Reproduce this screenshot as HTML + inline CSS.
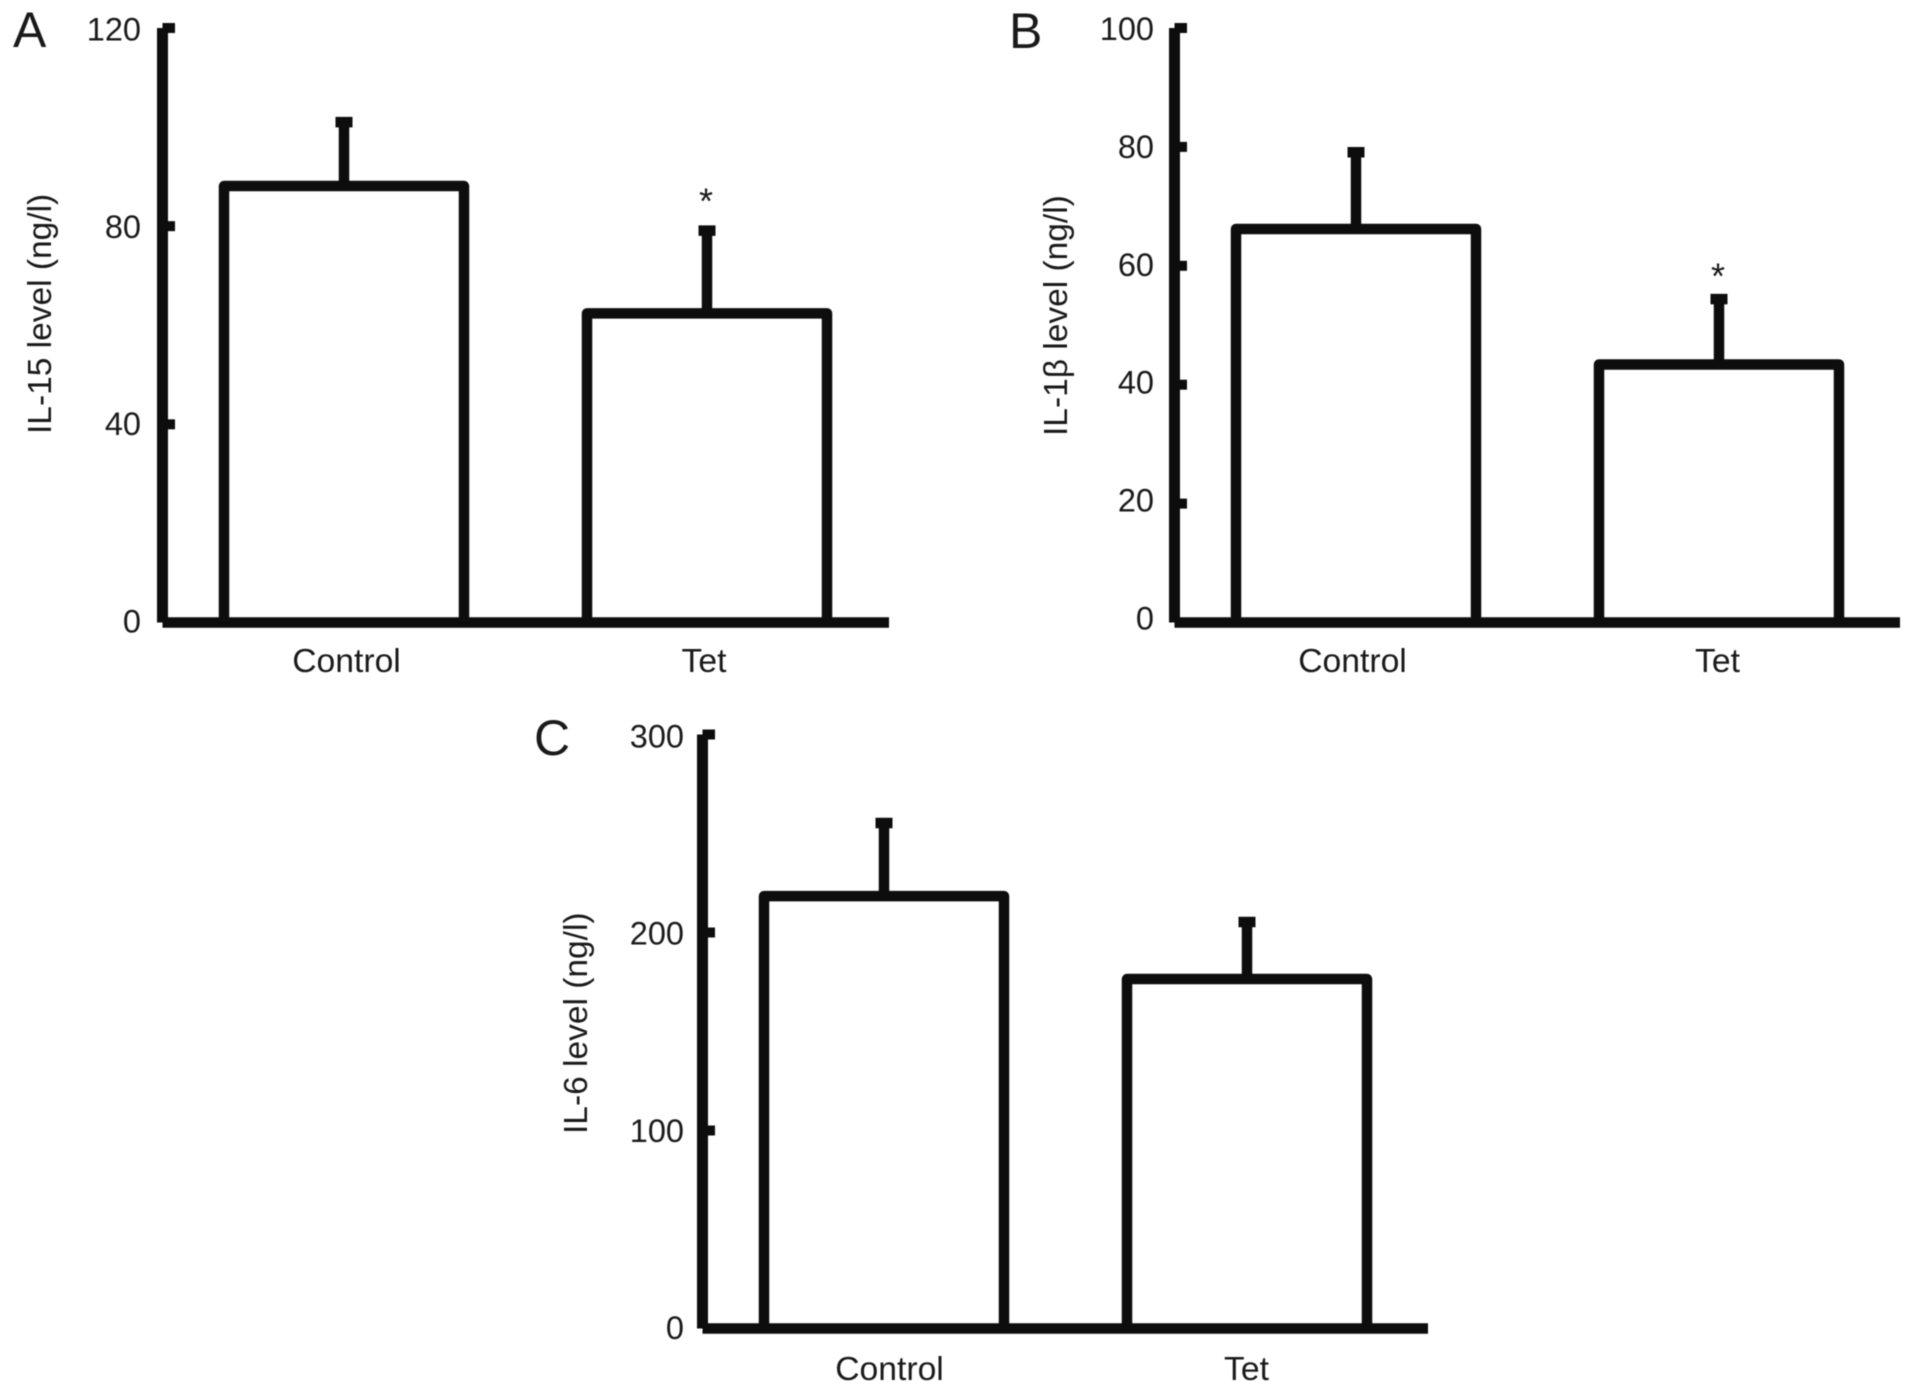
<!DOCTYPE html>
<html lang="en">
<head>
<meta charset="utf-8">
<title>IL-15, IL-1β and IL-6 levels</title>
<style>
  html, body { margin: 0; padding: 0; background: #fff; }
  body { width: 1913px; height: 1393px; overflow: hidden; }
  svg { display: block; filter: blur(0.45px); }
  text { font-family: "Liberation Sans", sans-serif; fill: #1a1a1a; }
  .tick-label { font-size: 32.5px; text-anchor: end; }
  .cat-label { font-size: 33.7px; text-anchor: middle; }
  .axis-title { font-size: 33.5px; }
  .panel-letter { font-size: 50px; }
  .sig-star { font-size: 36px; text-anchor: middle; }
</style>
</head>
<body>
<svg id="figure" xmlns="http://www.w3.org/2000/svg" width="1913" height="1393" viewBox="0 0 1913 1393">
  <rect x="0" y="0" width="1913" height="1393" fill="#fff"></rect>
</svg>
<script>
// Data
const categories = ['Control', 'Tet'];

const il15Values = [88.1, 62.4];
const il15ErrorTops = [101, 79.1];
const il15Significant = [false, true];
const il15Ticks = [0, 40, 80, 120];

const il1bValues = [66.2, 43.4];
const il1bErrorTops = [79.1, 54.4];
const il1bSignificant = [false, true];
const il1bTicks = [0, 20, 40, 60, 80, 100];

const il6Values = [218.4, 176.5];
const il6ErrorTops = [255.3, 205.3];
const il6Significant = [false, false];
const il6Ticks = [0, 100, 200, 300];

// Layout
const INK = '#0d0d0d';
const STROKE = 10.5;
const BAR_WIDTH = 240;
const BAR_STEP = 363;
const CAP_WIDTH = 17;
const TICK_REACH = 12.5;

const panels = [
  {
    id: 'il-15', letter: 'A', title: 'IL-15 level (ng/l)',
    values: il15Values, errorTops: il15ErrorTops, significant: il15Significant, ticks: il15Ticks,
    axisX: 162.5, axisEnd: 889, yTop: 28, yZero: 622.5, firstCenter: 344,
    labelRight: 141, labelTop: 29, labelBottom: 621,
    letterX: 13, letterY: 47,
    titleX: 51, titleY: 434,
    catDx: [2.5, -3], catY: 672, starGap: 38
  },
  {
    id: 'il-1b', letter: 'B', title: 'IL-1β level (ng/l)',
    values: il1bValues, errorTops: il1bErrorTops, significant: il1bSignificant, ticks: il1bTicks,
    axisX: 1174.5, axisEnd: 1900, yTop: 28, yZero: 622.5, firstCenter: 1356,
    labelRight: 1154, labelTop: 28.5, labelBottom: 618,
    letterX: 1009, letterY: 48,
    titleX: 1067, titleY: 436,
    catDx: [-3.5, -1.5], catY: 672, starGap: 31.5
  },
  {
    id: 'il-6', letter: 'C', title: 'IL-6 level (ng/l)',
    values: il6Values, errorTops: il6ErrorTops, significant: il6Significant, ticks: il6Ticks,
    axisX: 702.5, axisEnd: 1428, yTop: 734.5, yZero: 1328.5, firstCenter: 884,
    labelRight: 684, labelTop: 736, labelBottom: 1327.5,
    letterX: 534, letterY: 755,
    titleX: 587, titleY: 1134,
    catDx: [5.5, -0.5], catY: 1380, starGap: 30
  }
];

// Axis functions
function axisMax(p) { return Math.max.apply(null, p.ticks); }
function yScale(p, v) { return p.yZero - (v / axisMax(p)) * (p.yZero - p.yTop); }
function labelScale(p, v) { return p.labelBottom - (v / axisMax(p)) * (p.labelBottom - p.labelTop); }
function xBand(p, i) { return p.firstCenter + i * BAR_STEP; }

// Drawing helpers
const SVG_NS = 'http://www.w3.org/2000/svg';
function make(parent, tag, attrs, text) {
  const node = document.createElementNS(SVG_NS, tag);
  Object.keys(attrs).forEach(function (k) { node.setAttribute(k, attrs[k]); });
  if (text !== undefined) node.textContent = text;
  parent.appendChild(node);
  return node;
}

const figure = document.getElementById('figure');

panels.forEach(function (p) {
  let el;
  const group = make(figure, 'g', {});
  
  

  el = make(group, 'text', { class: 'panel-letter', x: p.letterX, y: p.letterY }, p.letter);
  
  

  el = make(group, 'text', {
    class: 'axis-title', x: 0, y: 0,
    transform: 'translate(' + p.titleX + ' ' + p.titleY + ') rotate(-90)'
  }, p.title);
  
  

  categories.forEach(function (cat, i) {
    const cx = xBand(p, i);
    const top = yScale(p, p.values[i]);
    const errTop = yScale(p, p.errorTops[i]);
    const key = p.id + '-' + cat.toLowerCase();

    el = make(group, 'rect', {
      x: cx - STROKE / 2, y: errTop, width: STROKE, height: top - errTop, fill: INK
    });
    
    

    el = make(group, 'rect', {
      x: cx - CAP_WIDTH / 2, y: errTop - STROKE / 2, width: CAP_WIDTH, height: STROKE, fill: INK
    });
    
    

    el = make(group, 'path', {
      d: 'M' + (cx - BAR_WIDTH / 2) + ' ' + p.yZero +
         'V' + top + 'H' + (cx + BAR_WIDTH / 2) + 'V' + p.yZero,
      fill: '#fff', stroke: INK, 'stroke-width': STROKE, 'stroke-linejoin': 'round'
    });
    
    

    el = make(group, 'text', { class: 'cat-label', x: cx + p.catDx[i], y: p.catY }, cat);
    
    

    if (p.significant[i]) {
      el = make(group, 'text', { class: 'sig-star', x: cx - 1, y: errTop - p.starGap + 21 }, '*');
      
      
    }
  });

  el = make(group, 'rect', {
    x: p.axisX - 5.5, y: p.yTop, width: 11, height: p.yZero - p.yTop, fill: INK
  });
  
  

  el = make(group, 'rect', {
    x: p.axisX, y: p.yZero - 5.25, width: p.axisEnd - p.axisX, height: STROKE, fill: INK
  });
  
  

  p.ticks.forEach(function (t) {
    if (t !== 0) {
      el = make(group, 'rect', {
        x: p.axisX, y: yScale(p, t) - 5, width: TICK_REACH, height: 10, fill: INK
      });
      
      
    }
    el = make(group, 'text', { class: 'tick-label', x: p.labelRight, y: labelScale(p, t) + 11.5 }, String(t));
    
    
  });
});
</script>
</body>
</html>
